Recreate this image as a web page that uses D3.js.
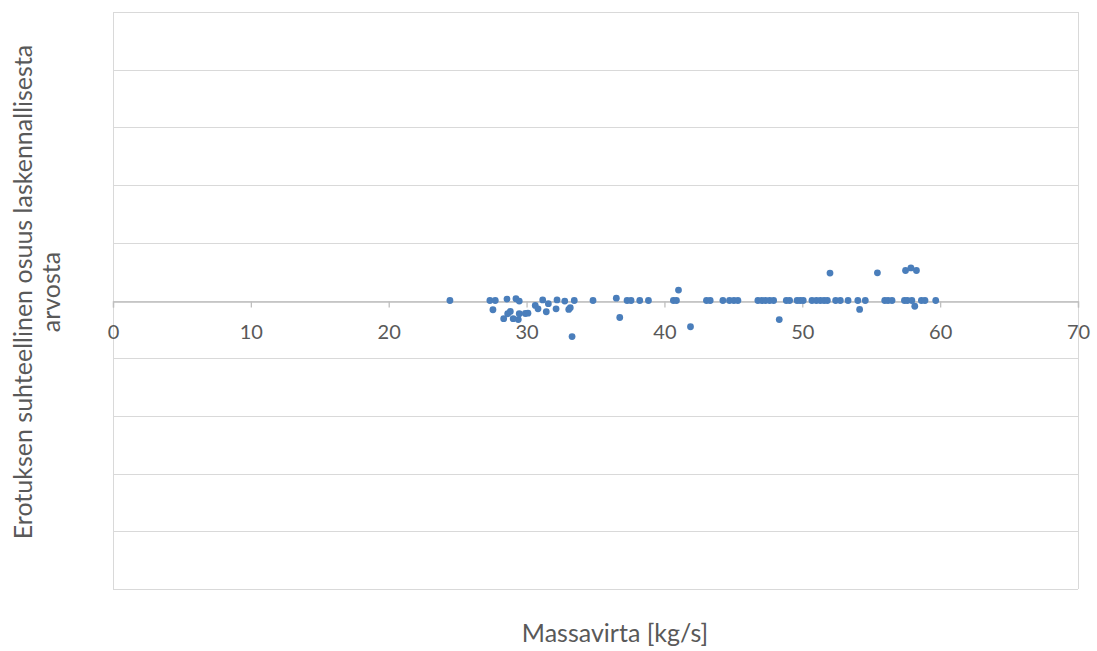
<!DOCTYPE html>
<html>
<head>
<meta charset="utf-8">
<script src="https://cdn.jsdelivr.net/npm/d3@7"></script>
<style>
  body { margin: 0; background: #fff; }
  text { font-family: Lato, "Open Sans", sans-serif; fill: #595959; }
</style>
</head>
<body>
<div id="chart"></div>
<script>
const width = 1097;
const height = 651;

// Data //////////////////////////////////////////
const massFlow = [
  24.44, 27.34, 27.73, 27.56, 28.58, 28.34, 28.63, 28.82, 29.23, 29.47,
  29.03, 29.40, 29.47, 29.91, 30.10, 30.63, 30.83, 31.17, 31.58, 31.43,
  32.14, 32.21, 32.77, 33.06, 33.17, 33.46, 33.30, 34.82, 36.51, 36.76,
  37.29, 37.58, 38.21, 38.84, 40.65, 40.87, 41.02, 41.89, 43.05, 43.32,
  44.24, 44.72, 45.04, 45.33, 46.78, 47.07, 47.33, 47.63, 47.92, 48.33,
  48.84, 49.08, 49.62, 49.85, 50.07, 50.70, 51.02, 51.31, 51.58, 51.82,
  52.01, 52.42, 52.76, 53.32, 54.03, 54.16, 54.57, 55.45, 55.98, 56.22,
  56.51, 57.41, 57.62, 57.49, 57.88, 58.28, 57.95, 58.16, 58.64, 58.90,
  59.68
];
const relDiff = [
  0, 0, 0, -0.032, 0.005, -0.063, -0.046, -0.038, 0.006, -0.002,
  -0.063, -0.066, -0.046, -0.045, -0.044, -0.017, -0.029, 0.002, -0.011, -0.039,
  -0.029, 0.002, -0.002, -0.031, -0.025, 0, -0.125, 0, 0.008, -0.059,
  0, 0, 0, 0, 0, 0, 0.036, -0.091, 0, 0,
  0, 0, 0, 0, 0, 0, 0, 0, 0, -0.066,
  0, 0, 0, 0, 0, 0, 0, 0, 0, 0,
  0.095, 0, 0, 0, 0, -0.031, 0, 0.096, 0, 0,
  0, 0, 0, 0.104, 0.113, 0.104, 0, -0.020, 0, 0,
  0
];
const xTicks = [0, 10, 20, 30, 40, 50, 60, 70];
const yTicks = [-1, -0.8, -0.6, -0.4, -0.2, 0, 0.2, 0.4, 0.6, 0.8, 1];
const xTitle = "Massavirta [kg/s]";
const yTitle = ["Erotuksen suhteellinen osuus laskennallisesta", "arvosta"];

const points = massFlow.map((x, i) => ({ x: x, y: relDiff[i] }));

// Layout //////////////////////////////////////////
const margin = { top: 12, right: 19, bottom: 62, left: 113 };
const innerW = width - margin.left - margin.right;
const innerH = height - margin.top - margin.bottom;

const svg = d3
  .select("#chart")
  .append("svg")
  .attr("width", width)
  .attr("height", height);

const g = svg
  .append("g")
  .attr("transform", `translate(${margin.left},${margin.top})`);

const xScale = d3.scaleLinear().domain([0, 70]).range([0, innerW]);
const yScale = d3.scaleLinear().domain([-1, 1]).range([innerH, 0]);

// Gridlines
g.selectAll(".hgrid")
  .data(yTicks)
  .enter()
  .append("line")
  .attr("class", "hgrid")
  .attr("x1", 0)
  .attr("x2", innerW)
  .attr("y1", d => Math.round(yScale(d)) + 0.5)
  .attr("y2", d => Math.round(yScale(d)) + 0.5)
  .style("stroke", "#d9d9d9")
  .style("stroke-width", 1);

// side borders
g.selectAll(".vborder")
  .data([0, 70])
  .enter()
  .append("line")
  .attr("x1", d => Math.round(xScale(d)) + 0.5)
  .attr("x2", d => Math.round(xScale(d)) + 0.5)
  .attr("y1", 0)
  .attr("y2", innerH)
  .style("stroke", "#d9d9d9");

// X axis on zero
const xAxis = d3
  .axisBottom(xScale)
  .tickValues(xTicks)
  .tickSize(6)
  .tickPadding(17);

const axisG = g
  .append("g")
  .attr("transform", `translate(0,${Math.round(yScale(0)) + 0.5})`)
  .call(xAxis);
axisG.select(".domain").style("stroke", "#bfbfbf").style("stroke-width", 1.3);
axisG.selectAll(".tick line").style("stroke", "#bfbfbf").style("stroke-width", 1.3);
axisG
  .selectAll(".tick text")
  .style("font-family", 'Lato, "Open Sans", sans-serif')
  .style("font-size", "20px")
  .style("fill", "#595959");

// Points
g.selectAll(".dot")
  .data(points)
  .enter()
  .append("circle")
  .attr("class", "dot")
  .attr("cx", d => xScale(d.x))
  .attr("cy", d => yScale(d.y))
  .attr("r", 3.4)
  .style("fill", "#4a7ebb");

// Titles
svg
  .append("text")
  .attr("x", 615)
  .attr("y", 642)
  .attr("text-anchor", "middle")
  .style("font-size", "25px")
  .text(xTitle);

const yT = svg
  .append("text")
  .attr("transform", `translate(32,292) rotate(-90)`)
  .attr("text-anchor", "middle")
  .style("font-size", "25px");
yT.selectAll("tspan")
  .data(yTitle)
  .enter()
  .append("tspan")
  .attr("x", 0)
  .attr("dy", (d, i) => (i === 0 ? "0em" : "1.1em"))
  .text(d => d);
</script>
</body>
</html>
